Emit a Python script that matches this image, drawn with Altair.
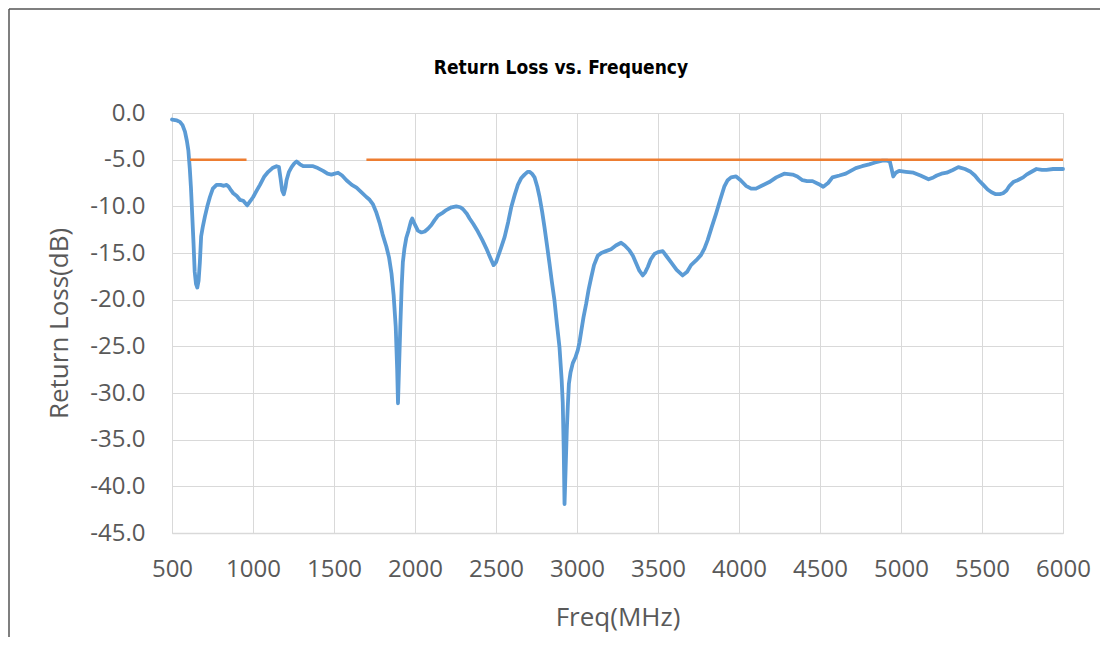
import altair as alt
import pandas as pd

# ---- data ----
freq = [500, 530, 549, 565, 580, 592, 601, 610, 617, 625, 633, 640, 648, 656, 664, 672, 680, 690,
        703, 718, 734, 752, 775, 800, 820, 837, 850, 865, 878, 900, 919, 940, 964, 985, 1001, 1020,
        1043, 1070, 1094, 1120, 1145, 1160, 1170, 1180, 1190, 1200, 1207, 1222, 1238, 1255, 1269,
        1290, 1310, 1340, 1371, 1400, 1433, 1460, 1484, 1505, 1525, 1550, 1577, 1610, 1639, 1670,
        1700, 1720, 1741, 1760, 1782, 1800, 1823, 1840, 1855, 1868, 1881, 1890, 1895, 1902, 1910,
        1918, 1925, 1935, 1946, 1960, 1975, 1983, 1995, 2018, 2040, 2060, 2080, 2101, 2120, 2142,
        2170, 2193, 2225, 2255, 2280, 2296, 2320, 2337, 2360, 2388, 2415, 2440, 2462, 2485, 2500,
        2512, 2530, 2553, 2575, 2594, 2615, 2635, 2655, 2676, 2695, 2707, 2722, 2738, 2755, 2769,
        2785, 2799, 2815, 2830, 2845, 2861, 2876, 2892, 2905, 2912, 2918, 2923, 2930, 2937, 2943,
        2950, 2960, 2974, 2990, 3005, 3015, 3026, 3040, 3057, 3072, 3088, 3105, 3128, 3150, 3179,
        3210, 3240, 3272, 3295, 3323, 3345, 3365, 3385, 3406, 3420, 3437, 3455, 3478, 3500, 3529,
        3555, 3581, 3615, 3652, 3680, 3704, 3735, 3766, 3787, 3807, 3832, 3858, 3884, 3909, 3930,
        3951, 3982, 4010, 4043, 4075, 4105, 4140, 4187, 4230, 4279, 4331, 4360, 4392, 4420, 4454,
        4490, 4520, 4550, 4577, 4620, 4659, 4690, 4721, 4760, 4803, 4840, 4885, 4913, 4931, 4942,
        4952, 4968, 4988, 5030, 5077, 5120, 5170, 5200, 5221, 5250, 5282, 5320, 5354, 5395, 5430,
        5456, 5480, 5508, 5535, 5559, 5585, 5610, 5630, 5651, 5670, 5693, 5720, 5754, 5775, 5795,
        5836, 5870, 5898, 5939, 5970, 6000]
return_loss = [-0.7, -0.8, -0.95, -1.3, -2.0, -3.0, -4.0, -6.0, -8.0, -11.0, -14.0, -17.0, -18.3,
               -18.7, -18.0, -16.0, -13.2, -12.2, -11.1, -10.0, -9.0, -8.1, -7.7, -7.7, -7.8, -7.7,
               -7.9, -8.3, -8.6, -8.9, -9.3, -9.4, -9.9, -9.4, -9.0, -8.4, -7.7, -6.8, -6.3, -5.9,
               -5.7, -5.8, -7.0, -8.3, -8.7, -8.0, -7.2, -6.3, -5.8, -5.4, -5.2, -5.5, -5.7, -5.7,
               -5.7, -5.9, -6.2, -6.5, -6.6, -6.5, -6.4, -6.7, -7.2, -7.7, -8.0, -8.5, -9.0, -9.3,
               -9.8, -10.6, -11.8, -13.0, -14.3, -15.5, -17.2, -19.5, -22.9, -27.5, -31.1, -27.0,
               -22.5, -18.5, -16.0, -14.5, -13.4, -12.6, -11.6, -11.3, -11.8, -12.6, -12.8, -12.7,
               -12.4, -12.0, -11.5, -11.0, -10.7, -10.4, -10.1, -10.0, -10.1, -10.3, -10.8, -11.3,
               -11.9, -12.7, -13.6, -14.5, -15.4, -16.3, -16.0, -15.4, -14.5, -13.3, -11.7, -10.1,
               -8.8, -7.7, -7.0, -6.6, -6.3, -6.3, -6.5, -6.9, -7.9, -9.0, -10.6, -12.2, -14.2,
               -16.1, -18.1, -20.1, -22.6, -25.1, -28.5, -31.0, -36.0, -41.9, -38.0, -34.0, -31.5,
               -29.0, -27.8, -26.8, -26.2, -25.4, -24.6, -23.4, -21.9, -20.4, -18.9, -17.6, -16.3,
               -15.3, -15.0, -14.8, -14.6, -14.2, -13.9, -14.2, -14.7, -15.3, -16.1, -16.9, -17.4,
               -17.1, -16.5, -15.7, -15.1, -14.9, -14.8, -15.4, -16.0, -16.8, -17.4, -17.0, -16.3,
               -15.8, -15.2, -14.5, -13.6, -12.2, -10.8, -9.3, -7.9, -7.2, -6.9, -6.8, -7.2, -7.8,
               -8.1, -8.1, -7.8, -7.4, -6.9, -6.5, -6.6, -6.8, -7.2, -7.3, -7.3, -7.6, -7.9, -7.5,
               -6.9, -6.7, -6.5, -6.2, -5.9, -5.7, -5.5, -5.3, -5.1, -5.1, -5.2, -6.0, -6.8, -6.4,
               -6.2, -6.3, -6.4, -6.7, -7.1, -6.9, -6.7, -6.5, -6.4, -6.1, -5.8, -6.0, -6.3, -6.7,
               -7.2, -7.7, -8.2, -8.5, -8.7, -8.7, -8.6, -8.3, -7.8, -7.4, -7.2, -6.9, -6.6, -6.4,
               -6.0, -6.1, -6.1, -6.0, -6.0, -6.0]
limit_start = [611, 1700]
limit_end = [960, 6000]
limit_level = -5.0
x_ticks = [500, 1000, 1500, 2000, 2500, 3000, 3500, 4000, 4500, 5000, 5500, 6000]
y_ticks = [0, -5, -10, -15, -20, -25, -30, -35, -40, -45]
chart_title = "Return Loss vs. Frequency"
x_title = "Freq(MHz)"
y_title = "Return Loss(dB)"

# ---- tables ----
curve = pd.DataFrame({"freq": freq, "rl": return_loss})
lim_rows = []
for i, (a, b) in enumerate(zip(limit_start, limit_end)):
    lim_rows.append({"freq": a, "rl": limit_level, "seg": i})
    lim_rows.append({"freq": b, "rl": limit_level, "seg": i})
limit = pd.DataFrame(lim_rows)

W, H = 891, 420
GRID = "#D9D9D9"
TXT = "#595959"

x_scale = alt.Scale(domain=[500, 6000], nice=False, zero=False)
y_scale = alt.Scale(domain=[-45, 0], nice=False, zero=False)

x_axis = alt.Axis(values=x_ticks, format="d", grid=True, gridColor=GRID, gridWidth=1,
                  domainColor=GRID, domainWidth=1.5, ticks=False, labelFont="Open Sans",
                  labelFontSize=24, labelColor=TXT, labelPadding=24, labelFlush=False,
                  title=x_title, titleFont="Open Sans", titleFontSize=26,
                  titleFontWeight="normal", titleColor=TXT, titleX=W / 2, titleY=84,
                  titleBaseline="middle", titleAlign="center")
y_axis = alt.Axis(values=y_ticks, grid=True, gridColor=GRID, gridWidth=1, domain=False,
                  ticks=False, labelFont="Open Sans", labelFontSize=24, labelColor=TXT,
                  labelPadding=27, labelFlush=False,
                  labelExpr="replace(format(datum.value, '.1f'), '\u2212', '-')",
                  title=y_title, titleFont="Open Sans", titleFontSize=26,
                  titleFontWeight="normal", titleColor=TXT, titleX=-113, titleY=H / 2,
                  titleBaseline="middle", titleAlign="center", titleAngle=270)

blue_line = alt.Chart(curve).mark_line(color="#5B9BD5", strokeWidth=3.8,
                                       strokeJoin="round", strokeCap="round").encode(
    x=alt.X("freq:Q", scale=x_scale, axis=x_axis),
    y=alt.Y("rl:Q", scale=y_scale, axis=y_axis),
    order="freq:Q",
)

orange_line = alt.Chart(limit).mark_line(color="#ED7D31", strokeWidth=2.5).encode(
    x=alt.X("freq:Q", scale=x_scale),
    y=alt.Y("rl:Q", scale=y_scale),
    detail="seg:N",
)

title_df = pd.DataFrame({"t": [chart_title]})
title_mark = alt.Chart(title_df).mark_text(
    font="Liberation Sans Narrow, DejaVu Sans Condensed, Roboto Condensed, Roboto, sans-serif",
    fontWeight="bold", fontSize=19, color="#000000",
    align="center", baseline="middle").encode(
    text="t:N", x=alt.value(389), y=alt.value(-45))

frame_df = pd.DataFrame({"k": [0]})
frame_left = alt.Chart(frame_df).mark_rule(color="#555555", strokeWidth=1.5).encode(
    x=alt.value(-163), y=alt.value(-104), y2=alt.value(524))
frame_top = alt.Chart(frame_df).mark_rule(color="#555555", strokeWidth=1.5).encode(
    x=alt.value(-163), x2=alt.value(928), y=alt.value(-104))

chart = alt.layer(blue_line, orange_line, title_mark, frame_left, frame_top).properties(
    width=W, height=H,
    autosize=alt.AutoSizeParams(type="none"),
    padding={"left": 164, "top": 105, "right": 38, "bottom": 105},
).configure_view(strokeWidth=0).configure(background="white")

chart.save("out.html", embed_options={"renderer": "svg", "actions": False})
